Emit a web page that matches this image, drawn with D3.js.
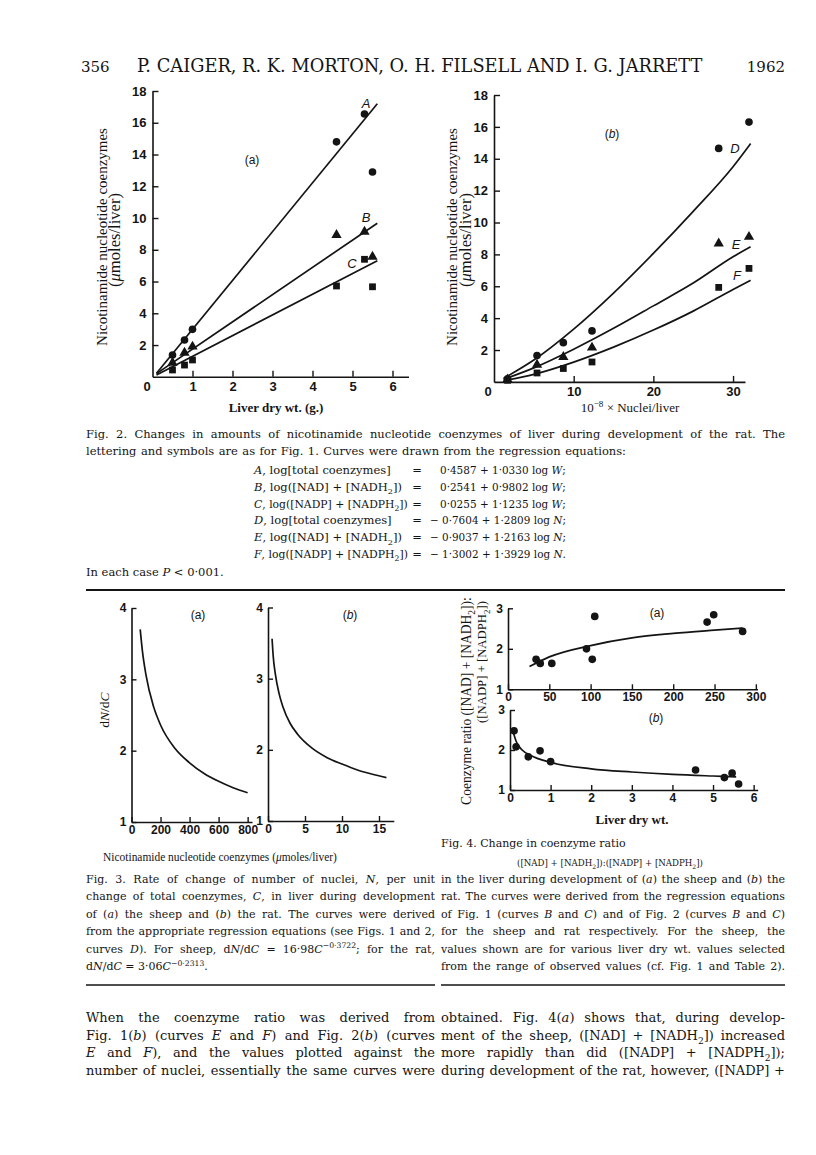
<!DOCTYPE html>
<html><head><meta charset="utf-8">
<script src="https://cdn.jsdelivr.net/npm/d3@7"></script>
<style>
body{margin:0;background:#fff;}
svg{display:block;background:#fff;}
</style></head>
<body><svg id="page" width="816" height="1155"></svg>
<script>
// ---------------- DATA ----------------
// Fig. 2(a): rat liver dry wt. (g) vs coenzymes (umoles/liver)
const fig2aW      = [0.5, 0.8, 1.0, 4.6, 5.3, 5.5];
const fig2aTotalA = [1.37, 2.32, 2.99, 14.8, 16.55, 12.9];
const fig2aNadB   = [0.89, 1.52, 1.9, 8.93, 9.14, 7.56];
const fig2aNadpC  = [0.43, 0.74, 1.06, 5.72, 7.4, 5.67];
const fig2aLineW  = [0.1, 5.62];
const fig2aLineA  = [0.22, 17.2];
const fig2aLineB  = [0.2, 9.67];
const fig2aLineC  = [0.12, 7.31];
const fig2aXTicks = [1, 2, 3, 4, 5, 6];
const fig2YTicks  = [2, 4, 6, 8, 10, 12, 14, 16, 18];
// Fig. 2(b): 10^-8 x nuclei/liver vs coenzymes
const fig2bN      = [1.7, 5.4, 8.7, 12.3, 28.2, 32.0];
const fig2bTotalD = [0.2, 1.65, 2.46, 3.2, 14.65, 16.3];
const fig2bNadE   = [0.15, 1.08, 1.56, 2.15, 8.68, 9.1];
const fig2bNadpF  = [0.1, 0.56, 0.84, 1.25, 5.93, 7.12];
const fig2bCurveN = [1.2, 5, 10, 15, 20, 25, 30, 32.2];
const fig2bCurveD = [0.22, 1.37, 3.31, 5.57, 8.06, 10.7, 13.5, 14.95];
const fig2bCurveE = [0.16, 0.88, 2.05, 3.36, 4.77, 6.2, 7.85, 8.48];
const fig2bCurveF = [0.07, 0.47, 1.24, 2.18, 3.25, 4.44, 5.8, 6.38];
const fig2bXTicks = [10, 20, 30];
// Fig. 3: dN/dC vs C
const fig3aC    = [60, 75, 100, 150, 200, 300, 400, 500, 600, 700, 800];
const fig3aRate = [3.70, 3.40, 3.06, 2.63, 2.36, 2.03, 1.83, 1.68, 1.57, 1.48, 1.41];
const fig3bC    = [0.55, 0.7, 1, 1.5, 2, 3, 4, 6, 8, 10, 12, 14, 16];
const fig3bRate = [3.56, 3.32, 3.06, 2.79, 2.61, 2.37, 2.22, 2.02, 1.89, 1.80, 1.72, 1.66, 1.61];
const fig3aXTicks = [0, 200, 400, 600, 800];
const fig3bXTicks = [0, 5, 10, 15];
const fig3YTicks  = [1, 2, 3, 4];
// Fig. 4: coenzyme ratio vs liver dry wt.
const fig4aW      = [34, 39, 53, 95, 102, 105, 241, 249, 284];
const fig4aRatio  = [1.74, 1.64, 1.64, 2.0, 1.74, 2.8, 2.66, 2.84, 2.43];
const fig4aCurveW = [26, 50, 100, 150, 200, 250, 284];
const fig4aCurveR = [1.56, 1.80, 2.08, 2.27, 2.38, 2.46, 2.51];
const fig4bW      = [0.1, 0.15, 0.45, 0.74, 1.0, 4.57, 5.28, 5.47, 5.63];
const fig4bRatio  = [2.48, 2.08, 1.83, 1.98, 1.71, 1.5, 1.31, 1.42, 1.15];
const fig4bCurveW = [0.07, 0.15, 0.3, 0.5, 1, 2, 3, 4, 5, 5.57];
const fig4bCurveR = [2.48, 2.22, 2.0, 1.87, 1.69, 1.53, 1.45, 1.39, 1.35, 1.33];
const fig4aXTicks = [0, 50, 100, 150, 200, 250, 300];
const fig4bXTicks = [0, 1, 2, 3, 4, 5, 6];
const fig4YTicks  = [1, 2, 3];

// ---------------- HELPERS ----------------
const SERIF = '"Liberation Serif","DejaVu Serif",serif';
const BOOK = '"DejaVu Serif","Liberation Serif",serif';
const SANS = '"Liberation Sans","DejaVu Sans",sans-serif';
const INK = '#141414';
const svg = d3.select('#page');

function rich(parent, x, y, str, o = {}) {
  const t = parent.append('text').attr('x', x).attr('y', y)
    .attr('font-family', o.family || SERIF)
    .attr('text-anchor', o.anchor || 'start').attr('fill', INK);
  if (o.weight) t.attr('font-weight', o.weight);
  if (o.style) t.attr('font-style', o.style);
  if (o.rotate) t.attr('transform', `rotate(-90,${x},${y})`);
  const re = /\{([isp]):([^}]*)\}/g;
  let last = 0, m; const parts = [];
  while ((m = re.exec(str))) {
    if (m.index > last) parts.push(['n', str.slice(last, m.index)]);
    parts.push([m[1], m[2]]); last = re.lastIndex;
  }
  if (last < str.length) parts.push(['n', str.slice(last)]);
  function build(fs) {
    t.selectAll('tspan').remove();
    t.attr('font-size', fs);
    let shift = 0;
    parts.forEach(([k, s]) => {
      const sp = t.append('tspan').text(s);
      const target = k === 's' ? fs * 0.3 : k === 'p' ? -fs * 0.4 : 0;
      if (target !== shift) { sp.attr('dy', target - shift); shift = target; }
      if (k === 'i') sp.attr('font-style', 'italic');
      if (k === 's' || k === 'p') sp.attr('font-size', fs * 0.7);
    });
    return t.node().getComputedTextLength();
  }
  let fs = o.size || 13;
  let w = build(fs);
  const scaleTo = (target) => { fs = fs * target / w; w = build(fs); };
  if (o.max && w > o.max) scaleTo(o.max);
  if (o.width) {
    const plain = parts.map(p => p[1]).join('').replace(/ +/g, ' ').trim();
    const n = (plain.match(/ /g) || []).length;
    if (o.fit || w > o.width || n === 0) scaleTo(o.width);
    else t.attr('word-spacing', (o.width - w) / n);
  }
  return t;
}

function panel(cfg) {
  const g = svg.append('g');
  const x = d3.scaleLinear().domain(cfg.xd).range(cfg.xr);
  const y = d3.scaleLinear().domain(cfg.yd).range(cfg.yr);
  const xa = d3.axisBottom(x).tickValues(cfg.xt).tickSizeInner(-cfg.tk).tickSizeOuter(0)
    .tickPadding(cfg.xpad).tickFormat(d3.format('d'));
  const ya = d3.axisLeft(y).tickValues(cfg.yt).tickSizeInner(-cfg.tk).tickSizeOuter(0)
    .tickPadding(cfg.ypad).tickFormat(d3.format('d'));
  const gx = g.append('g').attr('transform', `translate(0,${cfg.yr[0]})`).call(xa);
  const gy = g.append('g').attr('transform', `translate(${cfg.xr[0]},0)`).call(ya);
  [gx, gy].forEach(a => {
    a.attr('font-family', null).attr('font-size', null);
    a.select('.domain').attr('stroke', INK).attr('stroke-width', 1.6);
    a.selectAll('.tick line').attr('stroke', INK).attr('stroke-width', 1.4);
    a.selectAll('.tick text').attr('font-family', SANS).attr('font-weight', 'bold')
      .attr('font-size', cfg.fs).attr('fill', INK);
  });
  return { g, x, y };
}

function marks(p, xs, ys, type, size) {
  const sym = d3.symbol().type(type).size(size);
  p.g.selectAll(null).data(xs.map((v, i) => [v, ys[i]])).enter().append('path')
    .attr('d', sym).attr('fill', INK)
    .attr('transform', d => `translate(${p.x(d[0])},${p.y(d[1])})`);
}
function curve(p, xs, ys, smooth) {
  const ln = d3.line().x(d => p.x(d[0])).y(d => p.y(d[1]));
  if (smooth) ln.curve(d3.curveMonotoneX);
  p.g.append('path').datum(xs.map((v, i) => [v, ys[i]])).attr('d', ln)
    .attr('fill', 'none').attr('stroke', INK).attr('stroke-width', 1.7);
}

// ---------------- HEADER ----------------
rich(svg, 81, 72, '356', { size: 15, family: BOOK });
rich(svg, 137, 72, 'P. CAIGER, R. K. MORTON, O. H. FILSELL AND I. G. JARRETT', { size: 15, family: BOOK, width: 566, fit: true });
rich(svg, 785, 72, '1962', { size: 15, family: BOOK, anchor: 'end' });

// ---------------- FIG 2(a) ----------------
const p2a = panel({ xd: [0, 6.4], xr: [152.5, 408.5], yd: [0, 18], yr: [376.8, 91],
  xt: fig2aXTicks, yt: fig2YTicks, tk: 6, xpad: 5, ypad: 6, fs: 13 });
rich(p2a.g, 147, 391, '0', { family: SANS, weight: 'bold', anchor: 'middle' });
curve(p2a, fig2aLineW, fig2aLineA);
curve(p2a, fig2aLineW, fig2aLineB);
curve(p2a, fig2aLineW, fig2aLineC);
marks(p2a, fig2aW, fig2aTotalA, d3.symbolCircle, 46);
marks(p2a, fig2aW, fig2aNadB, d3.symbolTriangle, 46);
marks(p2a, fig2aW, fig2aNadpC, d3.symbolSquare, 46);
rich(p2a.g, 366, 108, 'A', { family: SANS, style: 'italic', anchor: 'middle', size: 13 });
rich(p2a.g, 366, 222, 'B', { family: SANS, style: 'italic', anchor: 'middle', size: 13 });
rich(p2a.g, 352, 268, 'C', { family: SANS, style: 'italic', anchor: 'middle', size: 13 });
rich(p2a.g, 252, 164, '(a)', { family: SANS, anchor: 'middle', size: 12 });
rich(svg, 107, 237, 'Nicotinamide nucleotide coenzymes', { size: 13.5, anchor: 'middle', rotate: true, width: 218, fit: true });
rich(svg, 120, 240, '({i:\u03bc}moles/liver)', { size: 13.5, anchor: 'middle', rotate: true, width: 94, fit: true });
rich(svg, 276, 412, 'Liver dry wt. (g.)', { size: 13, anchor: 'middle', weight: 'bold' });

// ---------------- FIG 2(b) ----------------
const p2b = panel({ xd: [0, 31.5], xr: [494, 745], yd: [0, 18], yr: [381.9, 95],
  xt: fig2bXTicks, yt: fig2YTicks, tk: 6, xpad: 5, ypad: 6, fs: 13 });
rich(p2b.g, 488, 396, '0', { family: SANS, weight: 'bold', anchor: 'middle' });
curve(p2b, fig2bCurveN, fig2bCurveD, true);
curve(p2b, fig2bCurveN, fig2bCurveE, true);
curve(p2b, fig2bCurveN, fig2bCurveF, true);
marks(p2b, fig2bN, fig2bTotalD, d3.symbolCircle, 46);
marks(p2b, fig2bN, fig2bNadE, d3.symbolTriangle, 46);
marks(p2b, fig2bN, fig2bNadpF, d3.symbolSquare, 46);
rich(p2b.g, 735, 153, 'D', { family: SANS, style: 'italic', anchor: 'middle', size: 13 });
rich(p2b.g, 736, 249, 'E', { family: SANS, style: 'italic', anchor: 'middle', size: 13 });
rich(p2b.g, 737, 280, 'F', { family: SANS, style: 'italic', anchor: 'middle', size: 13 });
rich(p2b.g, 612, 138, '({i:b})', { family: SANS, anchor: 'middle', size: 12 });
rich(svg, 457, 237, 'Nicotinamide nucleotide coenzymes', { size: 13.5, anchor: 'middle', rotate: true, width: 218, fit: true });
rich(svg, 471, 240, '({i:\u03bc}moles/liver)', { size: 13.5, anchor: 'middle', rotate: true, width: 94, fit: true });
rich(svg, 630, 412, '10{p:\u22128} \u00d7 Nuclei/liver', { size: 13, anchor: 'middle' });

// ---------------- FIG 2 CAPTION ----------------
rich(svg, 86, 438, 'Fig. 2.  Changes in amounts of nicotinamide nucleotide coenzymes of liver during development of the rat. The', { size: 11.5, family: BOOK, width: 699 });
rich(svg, 86, 455, 'lettering and symbols are as for Fig. 1.  Curves were drawn from the regression equations:', { size: 11.5, family: BOOK, width: 540 });
const eqLeft = ['{i:A}, log[total coenzymes]', '{i:B}, log([NAD] + [NADH{s:2}])', '{i:C}, log([NADP] + [NADPH{s:2}])',
  '{i:D}, log[total coenzymes]', '{i:E}, log([NAD] + [NADH{s:2}])', '{i:F}, log([NADP] + [NADPH{s:2}])'];
const eqRight = ['0\u00b74587 + 1\u00b70330 log {i:W};', '0\u00b72541 + 0\u00b79802 log {i:W};', '0\u00b70255 + 1\u00b71235 log {i:W};',
  '\u2212 0\u00b77604 + 1\u00b72809 log {i:N};', '\u2212 0\u00b79037 + 1\u00b72163 log {i:N};', '\u2212 1\u00b73002 + 1\u00b73929 log {i:N}.'];
eqLeft.forEach((s, i) => {
  const yy = 474 + i * 16.8;
  rich(svg, 254, yy, s, { size: 11.5, family: BOOK, max: 154 });
  rich(svg, 417, yy, '=', { size: 11.5, family: BOOK, anchor: 'middle' });
  rich(svg, i < 3 ? 440 : 430, yy, eqRight[i], { size: 11.5, family: BOOK, max: i < 3 ? 126 : 136 });
});
rich(svg, 86, 576, 'In each case {i:P} < 0\u00b7001.', { size: 11.5, family: BOOK });
svg.append('line').attr('x1', 86).attr('x2', 785).attr('y1', 590).attr('y2', 590).attr('stroke', INK).attr('stroke-width', 2);

// ---------------- FIG 3 ----------------
const p3a = panel({ xd: [0, 830], xr: [131.5, 252], yd: [1, 4], yr: [822, 608],
  xt: fig3aXTicks, yt: fig3YTicks, tk: 5, xpad: 3, ypad: 5, fs: 12 });
curve(p3a, fig3aC, fig3aRate, true);
rich(p3a.g, 198, 619, '(a)', { family: SANS, anchor: 'middle', size: 12 });
const p3b = panel({ xd: [0, 17], xr: [268, 393.8], yd: [1, 4], yr: [821, 607.5],
  xt: fig3bXTicks, yt: fig3YTicks, tk: 5, xpad: 3, ypad: 5, fs: 12 });
curve(p3b, fig3bC, fig3bRate, true);
rich(p3b.g, 350, 619, '({i:b})', { family: SANS, anchor: 'middle', size: 12 });
rich(svg, 109, 710, 'd{i:N}/d{i:C}', { size: 13.5, anchor: 'middle', rotate: true });
rich(svg, 220, 861, 'Nicotinamide nucleotide coenzymes ({i:\u03bc}moles/liver)', { size: 12.5, anchor: 'middle', width: 234, fit: true });

// ---------------- FIG 4 ----------------
const p4a = panel({ xd: [0, 302], xr: [508, 757.5], yd: [1, 3], yr: [689.3, 608.3],
  xt: fig4aXTicks, yt: fig4YTicks, tk: 5, xpad: 3, ypad: 5, fs: 12 });
curve(p4a, fig4aCurveW, fig4aCurveR, true);
marks(p4a, fig4aW, fig4aRatio, d3.symbolCircle, 46);
rich(p4a.g, 657, 617, '(a)', { family: SANS, anchor: 'middle', size: 12 });
const p4b = panel({ xd: [0, 6.1], xr: [510, 757.7], yd: [1, 3], yr: [790, 710],
  xt: fig4bXTicks, yt: fig4YTicks, tk: 5, xpad: 3, ypad: 5, fs: 12 });
curve(p4b, fig4bCurveW, fig4bCurveR, true);
marks(p4b, fig4bW, fig4bRatio, d3.symbolCircle, 46);
rich(p4b.g, 656, 722, '({i:b})', { family: SANS, anchor: 'middle', size: 12 });
rich(svg, 471, 701, 'Coenzyme ratio ([NAD] + [NADH{s:2}]):', { size: 13, anchor: 'middle', rotate: true, width: 208, fit: true });
rich(svg, 486, 662, '([NADP] + [NADPH{s:2}])', { size: 13, anchor: 'middle', rotate: true, width: 122, fit: true });
rich(svg, 632, 824, 'Liver dry wt.', { size: 13, anchor: 'middle', weight: 'bold' });

// ---------------- FIG 3 / FIG 4 CAPTIONS ----------------
const cap3 = [
  ['Fig. 3.  Rate of change of number of nuclei, {i:N}, per unit', true],
  ['change of total coenzymes, {i:C}, in liver during development', true],
  ['of ({i:a}) the sheep and ({i:b}) the rat. The curves were derived', true],
  ['from the appropriate regression equations (see Figs. 1 and 2,', true],
  ['curves {i:D}).  For sheep, d{i:N}/d{i:C} = 16\u00b798{i:C}{p:\u22120\u00b73722}; for the rat,', true],
  ['d{i:N}/d{i:C} = 3\u00b706{i:C}{p:\u22120\u00b72313}.', false]];
cap3.forEach(([s, j], i) => rich(svg, 86, 883 + i * 17.4, s, { size: 11, family: BOOK, width: j ? 349 : null }));
rich(svg, 441, 847, 'Fig. 4.  Change in coenzyme ratio', { size: 11, family: BOOK });
rich(svg, 610, 866, '([NAD] + [NADH{s:2}]):([NADP] + [NADPH{s:2}])', { size: 11, family: BOOK, anchor: 'middle', width: 186, fit: true });
const cap4 = [
  'in the liver during development of ({i:a}) the sheep and ({i:b}) the',
  'rat. The curves were derived from the regression equations',
  'of Fig. 1 (curves {i:B} and {i:C}) and of Fig. 2 (curves {i:B} and {i:C})',
  'for the sheep and rat respectively.  For the sheep, the',
  'values shown are for various liver dry wt. values selected',
  'from the range of observed values (cf. Fig. 1 and Table 2).'];
cap4.forEach((s, i) => rich(svg, 441, 883 + i * 17.4, s, { size: 11, family: BOOK, width: 344 }));
svg.append('line').attr('x1', 86).attr('x2', 435).attr('y1', 985).attr('y2', 985).attr('stroke', INK).attr('stroke-width', 1.5);
svg.append('line').attr('x1', 441).attr('x2', 785).attr('y1', 985).attr('y2', 985).attr('stroke', INK).attr('stroke-width', 1.5);

// ---------------- BODY TEXT ----------------
const bodyL = ['When the coenzyme ratio was derived from',
  'Fig. 1({i:b}) (curves {i:E} and {i:F}) and Fig. 2({i:b}) (curves',
  '{i:E} and {i:F}), and the values plotted against the',
  'number of nuclei, essentially the same curves were'];
const bodyR = ['obtained. Fig. 4({i:a}) shows that, during develop-',
  'ment of the sheep, ([NAD] + [NADH{s:2}]) increased',
  'more rapidly than did ([NADP] + [NADPH{s:2}]);',
  'during development of the rat, however, ([NADP] +'];
bodyL.forEach((s, i) => rich(svg, 86, 1022 + i * 17.7, s, { size: 13, family: BOOK, width: 349 }));
bodyR.forEach((s, i) => rich(svg, 441, 1022 + i * 17.7, s, { size: 13, family: BOOK, width: 344 }));
</script></body></html>
